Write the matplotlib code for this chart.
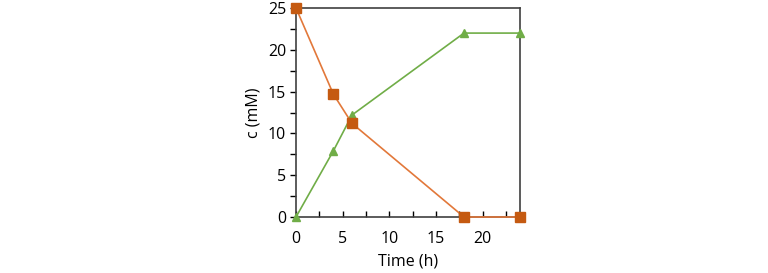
import matplotlib
matplotlib.use("Agg")
import matplotlib.pyplot as plt
from matplotlib.ticker import MultipleLocator

time_h = [0, 4, 6, 18, 24]
substrate = [25, 14.7, 11.2, 0, 0]
product = [0, 7.9, 12.2, 22, 22]

plt.rcParams['font.family'] = ['Open Sans', 'DejaVu Sans']

fig = plt.figure(figsize=(7.68, 2.73), dpi=100)
ax = fig.add_axes([296/768, 1-217/273, 224/768, 209/273])

ax.plot(time_h, product, color='#70AD47', lw=1.2, marker='^', ms=5.5,
        mfc='#70AD47', mec='#70AD47', clip_on=False, zorder=3)
ax.plot(time_h, substrate, color='#E2783A', lw=1.2, marker='s', ms=6.5,
        mfc='#C55A11', mec='#C55A11', clip_on=False, zorder=4)

ax.set_xlim(0, 24)
ax.set_ylim(0, 25)
ax.xaxis.set_major_locator(MultipleLocator(5))
ax.xaxis.set_minor_locator(MultipleLocator(2.5))
ax.yaxis.set_major_locator(MultipleLocator(5))
ax.yaxis.set_minor_locator(MultipleLocator(2.5))
ax.tick_params(axis='x', which='both', direction='in', length=4, width=1, labelsize=11.5, pad=10)
ax.tick_params(axis='y', which='both', direction='out', length=4, width=1, labelsize=11.5, pad=3)
ax.tick_params(axis='x', which='both', top=False)
ax.tick_params(axis='y', which='both', right=False)
for s in ax.spines.values():
    s.set_color('#404040')
    s.set_linewidth(1.2)
ax.set_xlabel('Time (h)', fontsize=11.5, labelpad=5)
ax.set_ylabel('c (mM)', fontsize=11.5, labelpad=5)

fig.savefig('out.png', dpi=100)
